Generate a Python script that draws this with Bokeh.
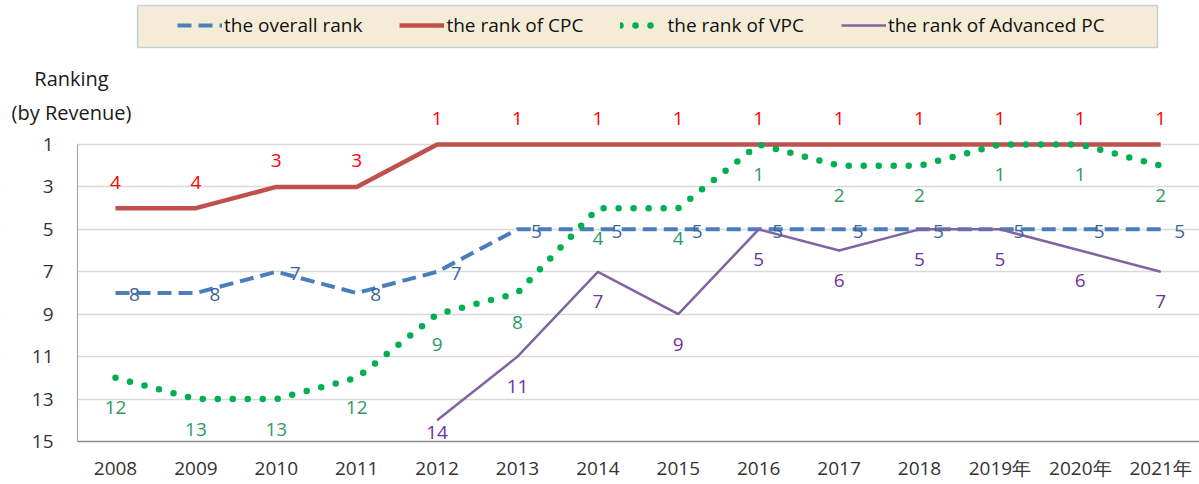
from bokeh.plotting import figure
from bokeh.models import (ColumnDataSource, Range1d, FixedTicker, Legend, LegendItem,
                          BoxAnnotation, Label)
from bokeh.core.properties import value
from bokeh.embed import file_html
from bokeh.resources import INLINE

years = ["2008", "2009", "2010", "2011", "2012", "2013", "2014", "2015", "2016",
         "2017", "2018", "2019年", "2020年", "2021年"]
overall_rank = [8, 8, 7, 8, 7, 5, 5, 5, 5, 5, 5, 5, 5, 5]
cpc_rank = [4, 4, 3, 3, 1, 1, 1, 1, 1, 1, 1, 1, 1, 1]
vpc_rank = [12, 13, 13, 12, 9, 8, 4, 4, 1, 2, 2, 1, 1, 2]
adv_rank = [None, None, None, None, 14, 11, 7, 9, 5, 6, 5, 5, 6, 7]
y_ticks = [1, 3, 5, 7, 9, 11, 13, 15]
legend_labels = ["the overall rank", "the rank of CPC", "the rank of VPC", "the rank of Advanced PC"]

FONT = "Open Sans"
W, H = 1199, 484

# pixel helpers (layout only): category centre spacing and rank spacing
X0, DX = 115.0, 80.4
Y0, DY = 144.0, 21.214
def px_x(px):
    return (px - X0) / DX
def px_y(py):
    return 1 + (py - Y0) / DY

p = figure(width=W, height=H, output_backend="svg", toolbar_location=None,
           x_range=Range1d(px_x(0), px_x(W)), y_range=Range1d(px_y(H), px_y(0)),
           min_border=0, outline_line_color=None,
           background_fill_color="white", border_fill_color="white")

xs = list(range(len(years)))

# axes (drawn inside the frame at fixed locations)
p.xaxis.fixed_location = 15
p.xaxis.bounds = (px_x(77), px_x(W))
p.xaxis.ticker = FixedTicker(ticks=xs)
p.xaxis.major_label_overrides = {i: y for i, y in enumerate(years)}
p.xaxis.major_label_text_font = FONT
p.xaxis.major_label_text_font_size = "19px"
p.xaxis.major_label_text_font_style = "normal"
p.xaxis.major_label_text_color = "#333333"
p.xaxis.major_tick_line_color = None
p.xaxis.minor_tick_line_color = None
p.xaxis.axis_line_color = "#8c8c8c"
p.xaxis.axis_line_width = 1.5
p.xaxis.major_label_standoff = 8

p.yaxis.fixed_location = px_x(77)
p.yaxis.ticker = FixedTicker(ticks=y_ticks)
p.yaxis.bounds = (1, 15)
p.yaxis.major_label_text_font = FONT
p.yaxis.major_label_text_font_size = "19px"
p.yaxis.major_label_text_font_style = "normal"
p.yaxis.major_label_text_color = "#333333"
p.yaxis.major_tick_line_color = None
p.yaxis.minor_tick_line_color = None
p.yaxis.axis_line_color = "#a6a6a6"
p.yaxis.axis_line_width = 1.2
p.yaxis.major_label_standoff = 18

p.xgrid.grid_line_color = None
p.ygrid.ticker = FixedTicker(ticks=y_ticks[:-1])
p.ygrid.grid_line_color = "#d9d9d9"
p.ygrid.grid_line_width = 1.5

# keep grid lines right of the value axis
p.add_layout(BoxAnnotation(right=px_x(76.5), fill_color="white", fill_alpha=1.0,
                           line_alpha=0, level="underlay"))

# legend box
p.add_layout(BoxAnnotation(left=px_x(137), right=px_x(1157), top=px_y(5), bottom=px_y(47),
                           fill_color="#f5ecd7", fill_alpha=1.0,
                           line_color="#4a7ebb", line_width=1.5, level="underlay"))

# lines
r_overall = p.line(xs, overall_rank, line_color="#4a7ebb", line_width=4, line_dash="14 7")
r_cpc = p.line(xs, cpc_rank, line_color="#c0504d", line_width=4.5)
r_vpc = p.line(xs, vpc_rank, line_color="#00b050", line_width=6.5, line_dash="0 15",
               line_cap="round")
adv_y = [float("nan") if v is None else v for v in adv_rank]
r_adv = p.line(xs, adv_y, line_color="#8064a2", line_width=2.5)

def add_labels(vals, color, x_off, y_off_fn):
    xx, yy, tt, yo = [], [], [], []
    for i, v in enumerate(vals):
        if v is None:
            continue
        xx.append(i); yy.append(v); tt.append(str(v)); yo.append(y_off_fn(v))
    src = ColumnDataSource(dict(x=xx, y=yy, text=tt, yo=yo))
    p.text(x="x", y="y", text="text", source=src, x_offset=x_off, y_offset="yo",
           text_align="center", text_baseline="middle", text_color=color,
           text_font=value(FONT), text_font_size="19px")

def below(v):
    pt = Y0 + (v - 1) * DY
    return min(30, 432 - pt)

add_labels(cpc_rank, "#ff0000", 0, lambda v: -26)
add_labels(vpc_rank, "#2e9a62", 0, below)
add_labels(overall_rank, "#3c639e", 19, lambda v: 2)
add_labels(adv_rank, "#7030a0", 0, below)

# value-axis title
for txt, py in [("Ranking", 78), ("(by Revenue)", 112)]:
    p.add_layout(Label(x=px_x(71), y=px_y(py), text=txt, text_align="center",
                       text_baseline="middle", text_font=FONT, text_font_size="20px",
                       text_color="#1a1a1a"))

legend = Legend(items=[LegendItem(label=legend_labels[0], renderers=[r_overall]),
                       LegendItem(label=legend_labels[1], renderers=[r_cpc]),
                       LegendItem(label=legend_labels[2], renderers=[r_vpc]),
                       LegendItem(label=legend_labels[3], renderers=[r_adv])],
                orientation="horizontal", location=(177, H - 38),
                padding=0, spacing=37, glyph_width=45, glyph_height=20,
                label_standoff=2, label_text_font=FONT, label_text_font_size="19px",
                label_text_color="#111111", background_fill_alpha=0,
                border_line_alpha=0, margin=0)
p.add_layout(legend, "center")

open("out.html", "w").write(file_html(p, INLINE))
